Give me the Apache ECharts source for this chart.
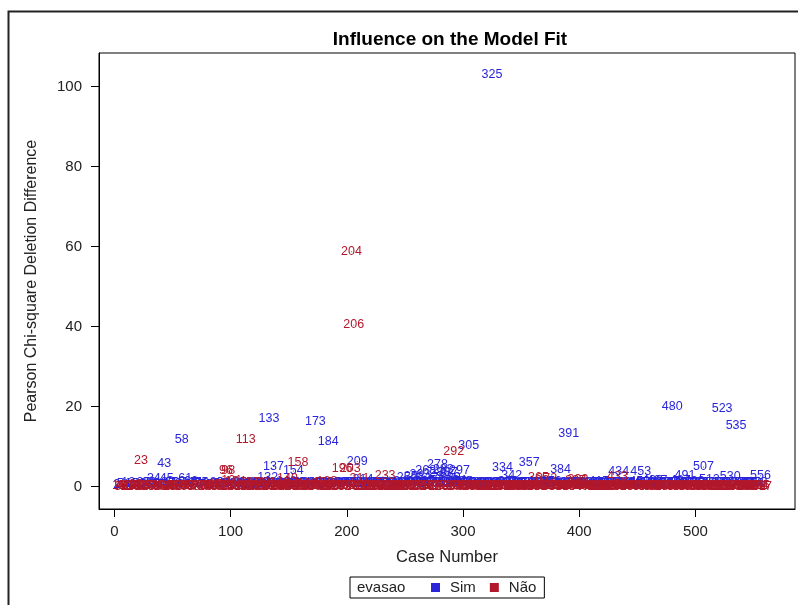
<!DOCTYPE html>
<html>
<head>
<meta charset="utf-8">
<script src="https://cdn.jsdelivr.net/npm/echarts@6/dist/echarts.min.js"></script>
<style>
html,body{margin:0;padding:0;background:#fff;}
#main{width:798px;height:605px;}
</style>
</head>
<body>
<div id="main"></div>
<script>
// ticks of both axes
var xTicks = [0, 100, 200, 300, 400, 500];
var yTicks = [0, 20, 40, 60, 80, 100];
var grupos = ['Sim', 'Não'];

// evasao per case (S = Sim, N = Não), 20 cases a line, case 1..557
var evasao = (
  "NSNNSNNSNNNSNNSNNNSN" +
  "SNNNSNNSNSNNSSNNSNNS" +
  "NNSNSNSNNSNSNNSNNSNS" +
  "SNNSNSNNSNSNNSSNNSNN" +
  "NSNNSNNSNNSNNSNNNNSN" +
  "NSNNSNSNNSNNNSNSNNSN" +
  "NSNNSNSNNSNSSNSNSNNS" +
  "NNSNSNNSNNSNNSNSNNSN" +
  "SNNSNNSNSNNSSNNSNSNN" +
  "NSNSNSNNSNNSNSNNSNNS" +
  "SNNNSNNSSNNSNSNNSNNS" +
  "NSNNSNSNNSNNNSNSNNSN" +
  "SNNSNSNNSNNSNSNSNSNS" +
  "NSSNSNSSNSSNSNSSNSNS" +
  "SNSSNSSNSSNNSSNSSNSN" +
  "SNSNSNNSNSNNSNSNNSNS" +
  "NNSNSNNSNSNNSSNNSNSN" +
  "NSNSNNSNSNNSNNSNSNNN" +
  "SNNSNSNNSNSNNSNSNNSN" +
  "SNNSNSNNSNSNSNNSNSNN" +
  "SNNSNNSNSNNSNNSNSNNS" +
  "NNSNSNNSNSNNNSNSNNSN" +
  "SNNSNSNNSNNSSNNSNSNN" +
  "NNSNNSSNNSNSNNSNSNNS" +
  "NSNNSNSNNSSNNSNSNNSN" +
  "NSNNSNSNNSNSNNSNSNNS" +
  "NNSNSNNSNSNNSNSNSNNS" +
  "NSNNSNNSNSNNSNNSN").split('');

// Pearson chi-square deletion difference per case
var pearsonDiff = [
  0.2,0.6,0.1,0.3,0.8,0.2,0.1,0.5,0.3,0.2, 0.1,0.9,0.2,0.3,0.7,0.1,0.2,0.4,0.6,0.2,
  0.7,0.2,6.4,0.1,0.9,0.3,0.2,0.6,0.1,1.0, 0.2,0.3,0.8,2.1,0.1,0.2,0.5,0.3,0.1,0.9,
  0.2,0.1,5.7,0.3,2.0,0.2,0.8,0.1,0.3,1.1, 0.2,0.7,0.1,0.2,0.9,0.3,0.1,11.7,0.2,0.6,
  2.0,0.2,0.1,0.9,0.3,1.2,0.2,0.1,0.8,0.3, 1.0,0.1,0.2,0.7,1.1,0.2,0.3,0.6,0.1,0.2,
  0.3,0.8,0.1,0.2,0.6,0.2,0.4,0.9,0.1,0.3, 0.7,0.2,0.1,1.0,0.3,3.9,0.2,3.9,0.8,0.1,
  1.4,0.7,0.2,1.2,0.9,0.1,0.6,0.3,0.2,1.0, 0.1,0.3,11.7,0.8,0.2,1.1,0.1,0.9,0.6,0.2,
  1.0,0.8,0.2,0.1,0.9,0.3,0.7,0.2,0.1,1.1, 0.9,2.3,16.9,0.2,0.8,0.1,5.0,0.3,0.2,0.7,
  0.2,0.9,1.0,0.1,0.8,0.3,0.2,1.2,2.1,0.1, 0.7,0.2,0.3,3.9,0.1,0.9,0.2,6.1,0.8,0.2,
  0.9,0.2,0.1,1.0,0.3,0.8,0.7,0.2,1.1,0.1, 0.3,0.6,16.2,0.2,0.1,0.9,0.3,0.8,0.2,1.0,
  0.2,0.8,1.3,11.2,0.1,0.9,0.3,0.2,0.7,0.1, 0.2,1.0,0.3,0.8,0.1,4.4,0.9,0.2,0.3,1.1,
  0.8,0.2,4.4,58.7,0.9,40.4,0.1,1.0,6.3,0.3, 2.0,0.7,0.2,1.8,0.1,0.3,0.9,0.2,0.1,0.8,
  0.3,0.9,0.1,0.2,1.1,0.3,0.7,0.2,0.1,0.8, 0.3,0.2,2.8,1.0,0.1,0.6,0.2,0.3,0.9,0.1,
  1.0,0.2,0.1,0.8,0.3,0.9,0.1,0.2,1.2,0.3, 0.1,2.2,0.2,0.9,0.1,1.1,0.3,2.6,0.2,1.0,
  0.2,1.0,3.0,0.1,0.9,0.3,1.2,4.0,0.2,0.8, 1.1,0.1,0.9,0.3,1.0,2.0,0.2,5.4,0.1,3.6,
  1.1,0.2,4.2,1.0,0.1,0.9,3.4,0.3,2.2,1.2, 0.2,8.7,0.8,1.6,0.1,1.0,4.0,0.3,1.3,0.2,
  1.2,0.2,1.0,0.1,10.2,0.3,0.2,0.9,0.1,1.1, 0.3,0.2,0.8,0.1,1.0,0.2,0.3,0.9,0.1,0.7,
  0.2,0.1,0.9,0.3,102.9,0.2,0.1,1.0,0.3,0.8, 0.2,0.1,1.1,4.7,0.3,0.2,0.9,0.1,1.2,0.3,
  0.2,2.8,0.1,1.0,0.3,0.2,0.9,0.1,1.1,0.3, 0.2,0.8,0.1,0.3,1.0,0.2,6.1,0.1,0.3,0.2,
  1.0,0.2,0.1,0.9,2.3,1.1,0.3,0.2,0.8,0.1, 1.0,2.0,0.2,0.9,0.3,1.2,0.1,0.2,0.8,0.3,
  0.9,0.2,0.1,4.2,0.3,1.0,0.2,0.1,0.8,0.3, 13.2,0.2,1.1,0.1,0.3,0.9,1.5,1.0,1.7,0.2,
  1.0,0.3,0.2,0.8,0.1,0.2,1.1,0.3,0.9,0.1, 0.2,1.0,0.3,0.1,0.8,0.2,1.2,0.1,0.3,0.9,
  0.2,0.1,1.0,0.3,0.9,0.2,0.1,1.1,0.3,0.8, 0.2,0.1,2.4,3.7,0.3,1.0,0.2,0.1,0.9,0.3,
  1.1,0.2,0.1,0.9,0.3,1.0,0.2,0.1,0.8,0.3, 0.2,1.2,3.7,0.1,0.3,0.9,0.2,1.0,0.1,0.3,
  0.2,0.1,1.4,0.3,0.2,0.9,1.5,0.1,0.3,1.0, 0.2,0.8,0.1,0.3,1.1,0.2,0.9,0.1,0.3,19.9,
  0.2,1.0,0.1,0.3,0.9,0.2,1.5,0.1,0.3,1.1, 2.7,0.2,0.1,0.9,0.3,1.0,0.2,0.1,1.2,0.3,
  0.2,0.9,0.1,0.3,1.0,0.2,4.9,0.1,0.3,0.8, 0.2,1.8,0.1,0.3,1.1,0.2,0.9,0.1,0.3,1.0,
  0.2,0.1,19.4,0.3,1.0,0.2,0.1,0.9,0.3,2.4, 0.2,0.1,1.1,0.3,15.2,0.2,0.9,0.1,0.3,1.0,
  0.2,1.0,0.1,0.3,0.9,0.2,0.1,1.1,0.3,0.8, 0.2,0.1,1.0,0.3,0.2,2.7,0.1
];

var corSim = '#2A25D9';
var corNao = '#B2182B';
var fonte = '"Liberation Sans", Arial, sans-serif';

var simData = [];
var naoData = [];
for (var i = 0; i < pearsonDiff.length; i++) {
  var ponto = [i + 1, pearsonDiff[i]];
  if (evasao[i] == 'S') {
    simData.push(ponto);
  } else {
    naoData.push(ponto);
  }
}

// every case is drawn as its case number
function serieRotulos(nome, dados, cor) {
  return {
    name: nome,
    type: 'scatter',
    data: dados,
    symbol: 'circle',
    symbolSize: 1,
    itemStyle: {color: cor, opacity: 1},
    silent: true,
    label: {
      show: true,
      position: 'inside',
      color: cor,
      opacity: 1,
      fontSize: 12.5,
      fontFamily: fonte,
      formatter: function (p) { return p.value[0]; }
    }
  };
}

var chart = echarts.init(document.getElementById('main'));
chart.setOption({
  animation: false,
  backgroundColor: '#fff',
  title: {
    text: 'Influence on the Model Fit',
    left: 445,
    top: 25,
    textAlign: 'center',
    textStyle: {fontSize: 19, fontWeight: 'bold', color: '#000', fontFamily: fonte}
  },
  graphic: [
    {type: 'rect', silent: true, z: -1,
     shape: {x: 8.5, y: 11.5, width: 830, height: 700},
     style: {fill: 'none', stroke: '#222', lineWidth: 2}},
    {type: 'text', x: 357, y: 588, z: 10,
     style: {text: 'evasao', fill: '#222', font: '15px ' + fonte, verticalAlign: 'middle'}}
  ],
  grid: {
    left: 99, right: 3, top: 53, bottom: 96,
    show: true, borderColor: '#000', borderWidth: 1
  },
  legend: {
    data: grupos,
    left: 350,
    top: 577,
    padding: [3, 8, 3, 81],
    borderColor: '#000',
    borderWidth: 1,
    icon: 'rect',
    itemWidth: 9,
    itemHeight: 9,
    itemGap: 14,
    selectedMode: false,
    textStyle: {fontSize: 15, color: '#222', fontFamily: fonte, padding: [0, 0, 0, 5]}
  },
  xAxis: {
    type: 'value',
    min: -13.2,
    max: 585.7,
    name: 'Case Number',
    nameLocation: 'middle',
    nameGap: 40,
    nameTextStyle: {fontSize: 16.5, color: '#222', fontFamily: fonte},
    axisLine: {show: true, onZero: false, lineStyle: {color: '#000'}},
    axisTick: {show: true, length: 8, customValues: xTicks, lineStyle: {color: '#000'}},
    axisLabel: {customValues: xTicks, margin: 15, fontSize: 15, color: '#222', fontFamily: fonte},
    splitLine: {show: false}
  },
  yAxis: {
    type: 'value',
    min: -5.6,
    max: 108.4,
    name: 'Pearson Chi-square Deletion Difference',
    nameLocation: 'middle',
    nameGap: 59,
    nameTextStyle: {fontSize: 16, color: '#222', fontFamily: fonte},
    axisLine: {show: true, onZero: false, lineStyle: {color: '#000'}},
    axisTick: {show: true, length: 8, customValues: yTicks, lineStyle: {color: '#000'}},
    axisLabel: {customValues: yTicks, margin: 17, fontSize: 15, color: '#222', fontFamily: fonte},
    splitLine: {show: false}
  },
  series: [
    serieRotulos('Sim', simData, corSim),
    serieRotulos('Não', naoData, corNao)
  ]
});
</script>
</body>
</html>
